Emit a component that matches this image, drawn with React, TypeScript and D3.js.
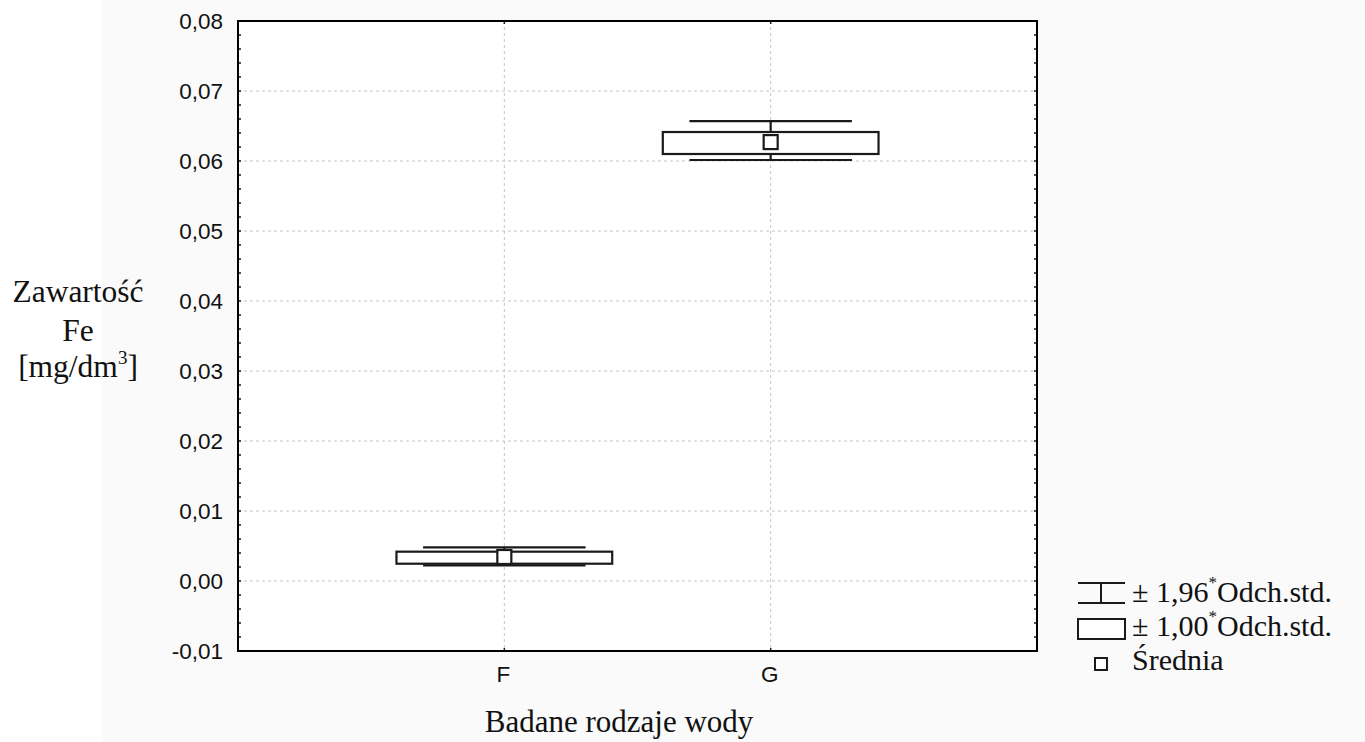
import React from "react";
import * as d3 from "d3";

const categories = ["F", "G"];
const means = [0.00343, 0.0627];
const sd1Low = [0.00247, 0.061];
const sd1High = [0.00419, 0.06414];
const sd196Low = [0.00224, 0.06014];
const sd196High = [0.00481, 0.06571];
const yTicks = [-0.01, 0, 0.01, 0.02, 0.03, 0.04, 0.05, 0.06, 0.07, 0.08];
const legendLabels = ["± 1,96", "± 1,00", "Średnia"];

const W = 1365;
const H = 742;
const L = 238, R = 1037, T = 21, B = 651;
const serif = "'Liberation Serif','Times New Roman',serif";
const sans = "'Liberation Sans',Arial,sans-serif";
const ink = "#1a1a1a";

function SText({ x, y, anchor = "start", font, size, children }: any) {
  return (
    <text x={x} y={y} textAnchor={anchor} fontFamily={font} fontSize={size} fill="#111">
      {children}
    </text>
  );
}

export default function App() {
  const y = d3.scaleLinear().domain([-0.01, 0.08]).range([B, T]);
  const x = d3.scalePoint<string>().domain(categories).range([L, R]).padding(1);
  const step = x.step();
  const boxW = step * 0.81;
  const whW = step * 0.61;
  const sq = 14;
  const fmt = (v: number) => d3.format(".2f")(v).replace(".", ",").replace("\u2212", "-");
  const minor = d3.range(-0.01, 0.08 + 1e-9, 0.002);

  return (
    <div style={{ position: "absolute", left: 0, top: 0 }}>
      <svg width={W} height={H} style={{ display: "block" }}>
        <rect x={0} y={0} width={W} height={H} fill="#ffffff" />
        <rect x={102} y={0} width={W - 102} height={H} fill="#fafafa" />
        <rect x={L} y={T} width={R - L} height={B - T} fill="#ffffff" />

        {yTicks
          .filter((t) => t > -0.01 + 1e-9 && t < 0.08 - 1e-9)
          .map((t) => (
            <line key={"g" + t} x1={L} x2={R} y1={y(t)} y2={y(t)} stroke="#c4c4c4" strokeWidth={1} strokeDasharray="3,3" />
          ))}
        {categories.map((c) => (
          <line key={"gv" + c} x1={x(c)} x2={x(c)} y1={T} y2={B} stroke="#c4c4c4" strokeWidth={1} strokeDasharray="3,3" />
        ))}

        {minor.map((t, i) => (
          <g key={"m" + i}>
            <line x1={L} x2={L + 3} y1={y(t)} y2={y(t)} stroke={ink} strokeWidth={1.5} />
            <line x1={R - 3} x2={R} y1={y(t)} y2={y(t)} stroke={ink} strokeWidth={1.5} />
          </g>
        ))}
        {categories.map((c) => (
          <g key={"bt" + c}>
            <line x1={x(c)} x2={x(c)} y1={B} y2={B - 3} stroke={ink} strokeWidth={1.5} />
            <line x1={x(c)} x2={x(c)} y1={T} y2={T + 3} stroke={ink} strokeWidth={1.5} />
          </g>
        ))}

        {categories.map((c, i) => {
          const cx = x(c) as number;
          return (
            <g key={"b" + c} stroke={ink} strokeWidth={2.2} fill="none">
              <line x1={cx} x2={cx} y1={y(sd1High[i])} y2={y(sd196High[i])} />
              <line x1={cx} x2={cx} y1={y(sd1Low[i])} y2={y(sd196Low[i])} />
              <line x1={cx - whW / 2} x2={cx + whW / 2} y1={y(sd196High[i])} y2={y(sd196High[i])} />
              <line x1={cx - whW / 2} x2={cx + whW / 2} y1={y(sd196Low[i])} y2={y(sd196Low[i])} />
              <rect x={cx - boxW / 2} y={y(sd1High[i])} width={boxW} height={y(sd1Low[i]) - y(sd1High[i])} fill="#fff" />
              <rect x={cx - sq / 2} y={y(means[i]) - sq / 2} width={sq} height={sq} fill="#fff" />
            </g>
          );
        })}

        <rect x={L} y={T} width={R - L} height={B - T} fill="none" stroke="#000" strokeWidth={2} />

        {yTicks.map((t) => (
          <SText key={"yl" + t} x={223} y={y(t) + 8} anchor="end" font={sans} size={22.5}>
            {fmt(t)}
          </SText>
        ))}
        {categories.map((c) => (
          <SText key={"xl" + c} x={(x(c) as number) - 1} y={682} anchor="middle" font={sans} size={22.5}>
            {c}
          </SText>
        ))}

        <SText x={619} y={732} anchor="middle" font={serif} size={31}>Badane rodzaje wody</SText>
        <SText x={78} y={302} anchor="middle" font={serif} size={31.5}>Zawartość</SText>
        <SText x={78} y={341} anchor="middle" font={serif} size={31.5}>Fe</SText>
        <SText x={78} y={377} anchor="middle" font={serif} size={31.5}>
          [mg/dm<tspan fontSize={19} dy={-13}>3</tspan><tspan dy={13}>]</tspan>
        </SText>

        <g stroke={ink} strokeWidth={2} fill="none">
          <line x1={1078} x2={1125} y1={583} y2={583} />
          <line x1={1078} x2={1125} y1={603} y2={603} />
          <line x1={1101} x2={1101} y1={583} y2={603} />
          <rect x={1078} y={619} width={47} height={20} fill="#fff" />
          <rect x={1095} y={658} width={12} height={12} fill="#fff" />
        </g>
        <SText x={1132} y={602} font={serif} size={30}>
          {legendLabels[0]}<tspan fontSize={17} dy={-14}>*</tspan><tspan dy={14}>Odch.std.</tspan>
        </SText>
        <SText x={1132} y={636} font={serif} size={30}>
          {legendLabels[1]}<tspan fontSize={17} dy={-14}>*</tspan><tspan dy={14}>Odch.std.</tspan>
        </SText>
        <SText x={1132} y={670} font={serif} size={30}>{legendLabels[2]}</SText>
      </svg>
    </div>
  );
}
